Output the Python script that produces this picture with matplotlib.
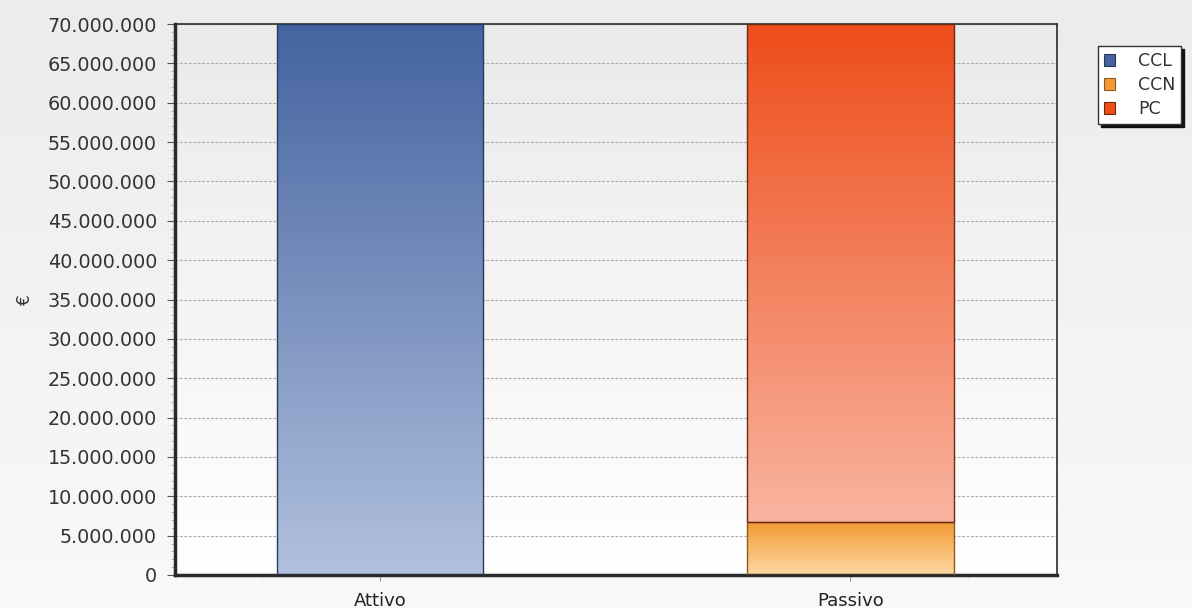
import numpy as np
import matplotlib
matplotlib.use("Agg")
import matplotlib.pyplot as plt
from matplotlib.colors import LinearSegmentedColormap
from matplotlib.ticker import FuncFormatter, MultipleLocator, FixedLocator
from matplotlib.patches import Rectangle

categories = ["Attivo", "Passivo"]
series_names = ["CCL", "CCN", "PC"]
ccl = [70000000, 0]
ccn = [0, 6700000]
pc = [0, 63300000]

grad = {
    "CCL": ("#4463a0", "#b1c1de"),
    "CCN": ("#f49a35", "#fcd9a3"),
    "PC": ("#ee4d1a", "#f9b4a0"),
}
edge = {"CCL": "#2a3a5a", "CCN": "#8a5a20", "PC": "#6a2a10"}

plt.rcParams['font.family'] = ['DejaVu Sans']
fig = plt.figure(figsize=(11.92, 6.08), dpi=100)

# figure background gradient
bgax = fig.add_axes([0, 0, 1, 1], zorder=-10)
bgax.imshow(np.linspace(0, 1, 256).reshape(-1, 1), aspect='auto',
            cmap=LinearSegmentedColormap.from_list("bg", ["#ececec", "#f9f9f9"]),
            extent=[0, 1, 0, 1], transform=bgax.transAxes)
bgax.axis('off')

ax = fig.add_axes([175/1192, 1 - 575/608, (1057-175)/1192, (575-24)/608])
ax.set_facecolor('none')
ax.imshow(np.linspace(0, 1, 256).reshape(-1, 1), aspect='auto',
          cmap=LinearSegmentedColormap.from_list("pa", ["#eaeaea", "#ffffff"]),
          extent=[0, 1, 0, 1], transform=ax.transAxes, zorder=0)

x = np.arange(len(categories))
width = 0.44
bottoms = np.zeros(len(categories))
handles = []
for name, vals in zip(series_names, [ccl, ccn, pc]):
    vals = np.array(vals, dtype=float)
    bars = ax.bar(x, vals, width, bottom=bottoms, facecolor='none',
                  edgecolor=edge[name], linewidth=1.0, zorder=3, label=name)
    cmap = LinearSegmentedColormap.from_list(name, [grad[name][1], grad[name][0]])
    for b, v in zip(bars, vals):
        if v <= 0:
            b.set_visible(False)
            continue
        x0, y0 = b.get_x(), b.get_y()
        w, h = b.get_width(), b.get_height()
        im = ax.imshow(np.linspace(0, 1, 256).reshape(-1, 1), aspect='auto',
                       cmap=cmap, origin='lower',
                       extent=[x0, x0 + w, y0, y0 + h], zorder=2)
        im.set_clip_path(b)
    bottoms += vals
    handles.append(Rectangle((0, 0), 1, 1, facecolor=grad[name][0],
                             edgecolor=edge[name], linewidth=0.8))

ax.set_xlim(-0.436, 1.44)
ax.set_ylim(0, 70000000)
ax.yaxis.set_major_locator(MultipleLocator(5000000))
ax.yaxis.set_minor_locator(MultipleLocator(1000000))
ax.yaxis.set_major_formatter(FuncFormatter(lambda v, p: f"{int(v):,}".replace(",", ".")))
ax.set_xticks(x)
ax.set_xticklabels(categories)
ax.xaxis.set_minor_locator(FixedLocator([-0.25, 0.25, 0.75, 1.25]))
ax.tick_params(axis='y', which='major', labelsize=13.8, colors='#555555', length=6,
               width=0.8, labelcolor='#333333', direction='out', pad=7)
ax.tick_params(axis='y', which='minor', length=3, width=0.6, colors='#aaaaaa')
ax.tick_params(axis='x', which='major', labelsize=13, colors='#999999', length=4,
               labelcolor='#222222', pad=8)
ax.tick_params(axis='x', which='minor', length=2, colors='#cccccc')
ax.grid(axis='y', which='major', linestyle=(0, (2.5, 1.5)), color='#aaaaaa', linewidth=0.8, zorder=1)
for g in ax.get_ygridlines():
    g.set_zorder(1)
for s in ['left', 'bottom']:
    ax.spines[s].set_linewidth(2.5)
    ax.spines[s].set_color('#2a2a2a')
for s in ['top', 'right']:
    ax.spines[s].set_linewidth(1.2)
    ax.spines[s].set_color('#2a2a2a')
ax.set_ylabel("€", fontsize=12, color='#333333')
ax.yaxis.set_label_coords(-141/882, 0.5)

leg = fig.legend(handles, series_names, loc='upper left',
                 bbox_to_anchor=(1098/1192, 1 - 46/608), frameon=True,
                 fancybox=False, shadow={'color': '#111111', 'alpha': 1},
                 fontsize=12.5, handlelength=0.65, handleheight=0.7,
                 handletextpad=1.3, borderpad=0.35, labelspacing=0.35,
                 borderaxespad=0)
leg.get_frame().set_edgecolor('#333333')
leg.get_frame().set_linewidth(1.0)
leg.get_frame().set_facecolor('white')
for t in leg.get_texts():
    t.set_color('#333333')

fig.savefig("out.png", dpi=100)
